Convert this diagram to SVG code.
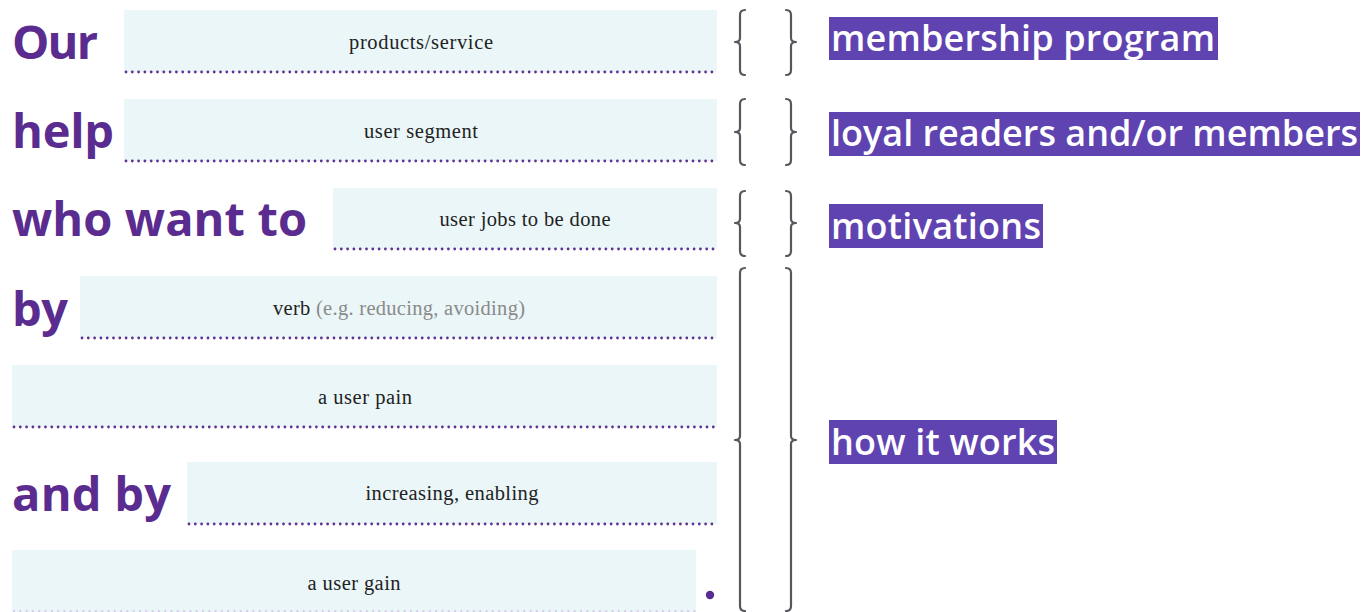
<svg xmlns="http://www.w3.org/2000/svg" width="1364" height="612" viewBox="0 0 1364 612">
  <style>
    .lead { font-family: "Open Sans", "DejaVu Sans", sans-serif; font-weight: 700; font-size: 47px; fill: #5b2c8f; }
    .slot { fill: #eaf6f8; }
    .dots { stroke: #5e3393; stroke-width: 2.8; stroke-linecap: round; stroke-dasharray: 0 6.3; fill: none; }
    .dots-faint { stroke: #d8c8ea; stroke-width: 2.2; stroke-linecap: round; stroke-dasharray: 0 6.3; fill: none; }
    .fill-in { font-family: "Liberation Serif", "DejaVu Serif", serif; font-size: 20.5px; fill: #222; text-anchor: middle; }
    .hint { fill: #8a8a8a; }
    .brace { stroke: #55585c; stroke-width: 2.2; fill: none; stroke-linejoin: round; stroke-linecap: round; }
    .tag-bg { fill: #5f43b0; }
    .tag { font-family: "Open Sans", "DejaVu Sans", sans-serif; font-weight: 600; font-size: 36px; fill: #ffffff; }
  </style>

  <!-- Statement rows: lead words and fill-in slots -->
  <g id="row-our">
    <text class="lead" x="12" y="59" textLength="86">Our</text>
    <rect class="slot" x="124" y="10" width="593" height="62"/>
    <line class="dots" x1="126" y1="72" x2="717" y2="72"/>
    <text class="fill-in" x="421" y="49" textLength="144">products/service</text>
  </g>

  <g id="row-help">
    <text class="lead" x="12" y="148" textLength="102">help</text>
    <rect class="slot" x="124" y="99" width="593" height="62"/>
    <line class="dots" x1="126" y1="161" x2="717" y2="161"/>
    <text class="fill-in" x="421" y="138" textLength="114">user segment</text>
  </g>

  <g id="row-who">
    <text class="lead" x="12" y="236" textLength="295">who want to</text>
    <rect class="slot" x="333" y="188" width="384" height="61"/>
    <line class="dots" x1="335" y1="249" x2="717" y2="249"/>
    <text class="fill-in" x="525" y="226" textLength="171">user jobs to be done</text>
  </g>

  <g id="row-by">
    <text class="lead" x="12" y="326" textLength="56">by</text>
    <rect class="slot" x="80" y="276" width="637" height="62"/>
    <line class="dots" x1="82" y1="338" x2="717" y2="338"/>
    <text class="fill-in" x="399" y="315" textLength="252">verb <tspan class="hint">(e.g. reducing, avoiding)</tspan></text>
  </g>

  <g id="row-pain">
    <rect class="slot" x="12" y="365" width="705" height="62"/>
    <line class="dots" x1="14" y1="427" x2="717" y2="427"/>
    <text class="fill-in" x="365" y="404" textLength="94">a user pain</text>
  </g>

  <g id="row-and-by">
    <text class="lead" x="12" y="511" textLength="159">and by</text>
    <rect class="slot" x="187" y="462" width="530" height="62"/>
    <line class="dots" x1="189" y1="524" x2="717" y2="524"/>
    <text class="fill-in" x="452" y="500" textLength="173">increasing, enabling</text>
  </g>

  <g id="row-gain">
    <rect class="slot" x="12" y="550" width="684" height="62"/>
    <line class="dots-faint" x1="14" y1="611" x2="696" y2="611"/>
    <text class="fill-in" x="354" y="590" textLength="93">a user gain</text>
    <circle cx="710" cy="595" r="4.2" fill="#5b2c8f"/>
  </g>

  <!-- Braces grouping each row with its label -->
  <g id="braces">
    <path class="brace" d="M745 10 Q740 10 740 15 L740 38 Q740 42 735 42 Q740 42 740 46 L740 70 Q740 75 745 75"/>
    <path class="brace" d="M786 10 Q791 10 791 15 L791 38 Q791 42 796 42 Q791 42 791 46 L791 70 Q791 75 786 75"/>

    <path class="brace" d="M745 99 Q740 99 740 104 L740 128 Q740 132 735 132 Q740 132 740 136 L740 160 Q740 165 745 165"/>
    <path class="brace" d="M786 99 Q791 99 791 104 L791 128 Q791 132 796 132 Q791 132 791 136 L791 160 Q791 165 786 165"/>

    <path class="brace" d="M745 191 Q740 191 740 196 L740 219 Q740 223 735 223 Q740 223 740 227 L740 251 Q740 256 745 256"/>
    <path class="brace" d="M786 191 Q791 191 791 196 L791 219 Q791 223 796 223 Q791 223 791 227 L791 251 Q791 256 786 256"/>

    <path class="brace" d="M745 268 Q740 268 740 273 L740 436 Q740 440 735 440 Q740 440 740 444 L740 606 Q740 611 745 611"/>
    <path class="brace" d="M786 268 Q791 268 791 273 L791 436 Q791 440 796 440 Q791 440 791 444 L791 606 Q791 611 786 611"/>
  </g>

  <!-- Highlighted labels -->
  <g id="label-membership">
    <rect class="tag-bg" x="829" y="17" width="389" height="43"/>
    <text class="tag" x="831" y="51" textLength="384">membership program</text>
  </g>
  <g id="label-loyal">
    <rect class="tag-bg" x="829" y="112" width="531" height="44"/>
    <text class="tag" x="831" y="146" textLength="527">loyal readers and/or members</text>
  </g>
  <g id="label-motivations">
    <rect class="tag-bg" x="829" y="204" width="214" height="44"/>
    <text class="tag" x="831" y="239" textLength="210">motivations</text>
  </g>
  <g id="label-how">
    <rect class="tag-bg" x="829" y="420" width="228" height="44"/>
    <text class="tag" x="831" y="455" textLength="224">how it works</text>
  </g>
</svg>
